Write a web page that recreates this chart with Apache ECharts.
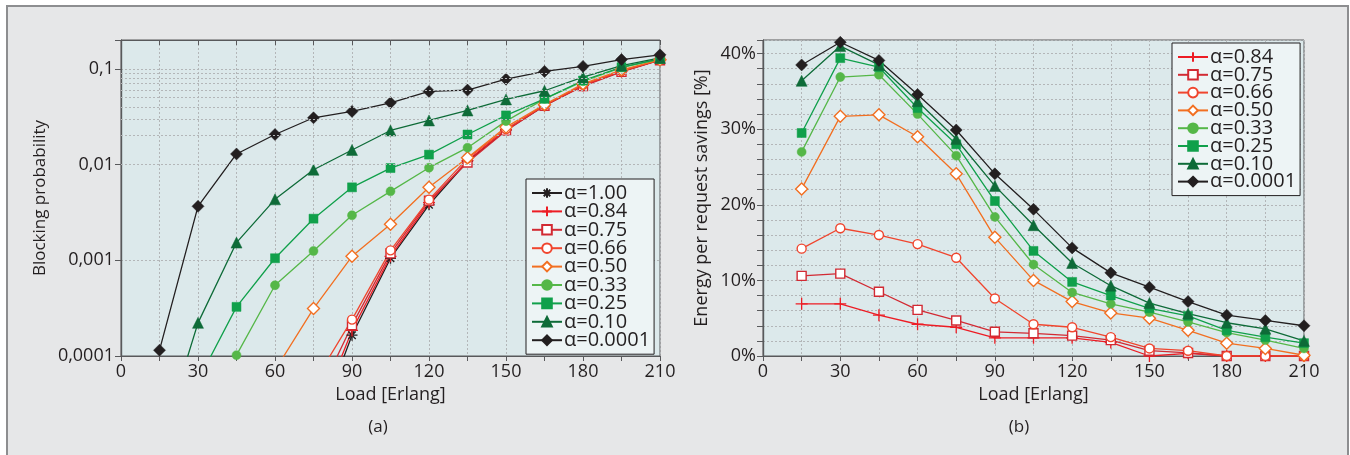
<!DOCTYPE html>
<html>
<head>
<meta charset="utf-8">
<script src="https://cdn.jsdelivr.net/npm/echarts@6/dist/echarts.min.js"></script>
<style>
html, body { margin: 0; padding: 0; background: #ffffff; }
#wrap { position: relative; width: 1350px; height: 455px; overflow: hidden; }
#frame { position: absolute; left: 6px; top: 5px; width: 1339px; height: 470px; border: 2px solid #8d8e90; background: #e6e7e8; }
#chart { position: absolute; left: 0; top: 0; width: 1350px; height: 455px; }
</style>
</head>
<body>
<div id="wrap">
  <div id="frame"></div>
  <div id="chart"></div>
</div>
<script>
// load values on the x axis (Erlang)
const loads = [15, 30, 45, 60, 75, 90, 105, 120, 135, 150, 165, 180, 195, 210];

// (a) blocking probability
const block100  = [null, null, null, null, 1.4e-5, 1.65e-4, 0.00105, 0.0038, 0.0108, 0.0228, 0.0412, 0.067, 0.094, 0.124];
const block084  = [null, null, null, null, 1.8e-5, 1.85e-4, 0.0011, 0.0040, 0.011, 0.0231, 0.0414, 0.067, 0.094, 0.124];
const block075  = [null, null, null, null, 3.0e-5, 2.1e-4, 0.00118, 0.0042, 0.0105, 0.0226, 0.0412, 0.066, 0.093, 0.123];
const block066  = [null, null, null, null, 5.2e-5, 2.4e-4, 0.00127, 0.0043, 0.0116, 0.0235, 0.0418, 0.068, 0.095, 0.125];
const block050  = [null, null, null, 7.1e-5, 3.13e-4, 0.0011, 0.00238, 0.0058, 0.0118, 0.0246, 0.0424, 0.0697, 0.0977, 0.124];
const block033  = [null, null, 1.02e-4, 5.48e-4, 0.00125, 0.00295, 0.00525, 0.00927, 0.015, 0.0284, 0.0486, 0.074, 0.103, 0.126];
const block025  = [null, 5.5e-5, 3.26e-4, 0.00105, 0.00272, 0.00578, 0.00919, 0.0127, 0.0206, 0.0326, 0.0486, 0.0755, 0.104, 0.127];
const block010  = [1.1e-5, 2.22e-4, 0.00153, 0.00433, 0.00883, 0.0142, 0.0227, 0.0289, 0.0367, 0.0479, 0.059, 0.0817, 0.108, 0.130];
const block0001 = [1.15e-4, 0.00366, 0.0129, 0.0206, 0.0308, 0.0359, 0.0442, 0.058, 0.060, 0.078, 0.094, 0.106, 0.125, 0.140];

// (b) energy per request savings [%]
const save084  = [6.9, 6.9, 5.4, 4.2, 3.8, 2.4, 2.4, 2.4, 1.8, 0, 0.35, 0, 0, 0];
const save075  = [10.6, 10.9, 8.5, 6.1, 4.7, 3.2, 3.0, 2.7, 2.1, 0.7, 0.4, 0, 0, 0];
const save066  = [14.2, 16.9, 16.0, 14.8, 13.0, 7.6, 4.2, 3.8, 2.5, 1.0, 0.7, 0, 0, 0];
const save050  = [22.1, 31.7, 31.9, 29.0, 24.1, 15.7, 10.0, 7.2, 5.7, 5.0, 3.4, 1.7, 1.0, 0.1];
const save033  = [27.0, 36.9, 37.2, 32.0, 26.5, 18.4, 12.1, 8.4, 6.9, 5.8, 4.5, 3.1, 2.1, 1.0];
const save025  = [29.5, 39.4, 38.2, 32.8, 28.0, 20.5, 13.9, 9.8, 8.0, 6.3, 5.3, 3.4, 2.5, 1.7];
const save010  = [36.4, 41.0, 38.5, 33.7, 28.7, 22.5, 17.3, 12.3, 9.3, 7.0, 5.6, 4.4, 3.6, 2.0];
const save0001 = [38.5, 41.5, 39.1, 34.6, 29.9, 24.1, 19.4, 14.3, 11.0, 9.1, 7.2, 5.4, 4.7, 4.0];

// tick labels
const blockLabels = { '-1': '0,1', '-2': '0,01', '-3': '0,001', '-4': '0,0001' };
const saveLabels = [0, 10, 20, 30, 40];

const FONT = '"Open Sans", "DejaVu Sans", sans-serif';
const TEXT = '#231f20';
const AXIS = '#58595b';
const GRIDLINE = '#b3b6b8';

const asterisk = 'path://M5 0L5 10M0 5L10 5M1.6 1.6L8.4 8.4M1.6 8.4L8.4 1.6';
const plus = 'path://M5 0L5 10M0 5L10 5';

// one entry per curve: colour, marker, hollow?
const styles = {
    '1.00':   { color: '#231f20', symbol: asterisk, size: 11, hollow: 'stroke' },
    '0.84':   { color: '#ed1c24', symbol: plus, size: 12, hollow: 'stroke' },
    '0.75':   { color: '#d22a33', symbol: 'rect', size: 9, hollow: true },
    '0.66':   { color: '#f0452e', symbol: 'circle', size: 9, hollow: true },
    '0.50':   { color: '#f26f21', symbol: 'diamond', size: 12, hollow: true },
    '0.33':   { color: '#55b748', symbol: 'circle', size: 9, hollow: false },
    '0.25':   { color: '#10a04b', symbol: 'rect', size: 9, hollow: false },
    '0.10':   { color: '#0e6b38', symbol: 'triangle', size: 11, hollow: false },
    '0.0001': { color: '#231f20', symbol: 'diamond', size: 12, hollow: false }
};

const zip = vals => loads.map((x, i) => vals[i] == null ? [x, null] : [x, vals[i]]);

function makeSeries(key, vals, xi, yi) {
    const s = styles[key];
    let itemStyle;
    if (s.hollow === 'stroke') itemStyle = { color: 'rgba(0,0,0,0)', borderColor: s.color, borderWidth: 1.3 };
    else if (s.hollow) itemStyle = { color: '#ffffff', borderColor: s.color, borderWidth: 1.4 };
    else itemStyle = { color: s.color, borderColor: s.color, borderWidth: 0.5 };
    return {
        name: 'α=' + key,
        type: 'line',
        xAxisIndex: xi,
        yAxisIndex: yi,
        data: zip(vals),
        symbol: s.symbol,
        symbolSize: s.size,
        showAllSymbol: true,
        clip: true,
        lineStyle: { color: s.color, width: 1.3 },
        itemStyle: itemStyle,
        emphasis: { disabled: true },
        animation: false
    };
}

// minor decade grid lines 2..9 for the log axis
const minorLog = [];
for (let e = -4; e <= -1; e++) {
    for (let k = 2; k <= 9; k++) {
        const v = k * Math.pow(10, e);
        if (v < 0.2) minorLog.push({ yAxis: v });
    }
}

const blockSeries = [
    makeSeries('1.00', block100, 0, 0),
    makeSeries('0.84', block084, 0, 0),
    makeSeries('0.75', block075, 0, 0),
    makeSeries('0.66', block066, 0, 0),
    makeSeries('0.50', block050, 0, 0),
    makeSeries('0.33', block033, 0, 0),
    makeSeries('0.25', block025, 0, 0),
    makeSeries('0.10', block010, 0, 0),
    makeSeries('0.0001', block0001, 0, 0)
];
blockSeries[0].markLine = {
    silent: true,
    symbol: 'none',
    label: { show: false },
    lineStyle: { color: GRIDLINE, type: [2, 2], width: 1 },
    animation: false,
    data: minorLog
};

const saveSeries = [
    makeSeries('0.84', save084, 2, 2),
    makeSeries('0.75', save075, 2, 2),
    makeSeries('0.66', save066, 2, 2),
    makeSeries('0.50', save050, 2, 2),
    makeSeries('0.33', save033, 2, 2),
    makeSeries('0.25', save025, 2, 2),
    makeSeries('0.10', save010, 2, 2),
    makeSeries('0.0001', save0001, 2, 2)
];

const dotted = { show: true, lineStyle: { color: GRIDLINE, type: [2, 2], width: 1 } };

function bottomX(gridIndex) {
    return {
        type: 'value', gridIndex: gridIndex, position: 'bottom',
        min: 0, max: 210, interval: 15,
        name: 'Load [Erlang]', nameLocation: 'middle', nameGap: 27,
        nameTextStyle: { fontFamily: FONT, fontSize: 18, color: TEXT },
        axisLine: { lineStyle: { color: AXIS, width: 1.2 } },
        axisTick: { length: 5, lineStyle: { color: AXIS } },
        axisLabel: {
            fontFamily: FONT, fontSize: 18, color: TEXT, margin: 7,
            formatter: v => (v % 30 === 0 ? String(v) : '')
        },
        splitLine: dotted
    };
}
function topX(gridIndex) {
    return {
        type: 'value', gridIndex: gridIndex, position: 'top',
        min: 0, max: 210, interval: 15,
        axisLine: { lineStyle: { color: AXIS, width: 1.2 } },
        axisTick: { inside: true, length: 5, lineStyle: { color: AXIS } },
        axisLabel: { show: false },
        splitLine: { show: false }
    };
}

const legendBase = {
    orient: 'vertical',
    backgroundColor: '#edf4f5', borderColor: TEXT, borderWidth: 1,
    padding: [4, 4, 4, 5], itemWidth: 30, itemHeight: 12,
    textStyle: { fontFamily: FONT, fontSize: 20, lineHeight: 15, color: TEXT, padding: [0, 0, 0, -3] },
    selectedMode: false
};

const option = {
    backgroundColor: 'transparent',
    textStyle: { fontFamily: FONT },
    grid: [
        { left: 121, top: 40, width: 539, height: 316, show: true, backgroundColor: '#dce9eb', borderColor: AXIS, borderWidth: 1 },
        { left: 763, top: 40, width: 541, height: 316, show: true, backgroundColor: '#dce9eb', borderColor: AXIS, borderWidth: 1 }
    ],
    xAxis: [bottomX(0), topX(0), bottomX(1), topX(1)],
    yAxis: [
        {
            type: 'log', gridIndex: 0, position: 'left', min: 0.0001, max: 0.2, logBase: 10,
            name: 'Blocking probability', nameLocation: 'middle', nameGap: 72, nameRotate: 90,
            nameTextStyle: { fontFamily: FONT, fontSize: 17, color: TEXT },
            axisLine: { show: true, lineStyle: { color: AXIS, width: 1.2 } },
            axisTick: { length: 6, lineStyle: { color: AXIS } },
            axisLabel: {
                fontFamily: FONT, fontSize: 18, color: TEXT, margin: 7,
                formatter: v => {
                    const e = Math.log10(v);
                    const r = Math.round(e);
                    return Math.abs(e - r) < 1e-6 && blockLabels[r] ? blockLabels[r] : '';
                }
            },
            splitLine: dotted
        },
        {
            type: 'log', gridIndex: 0, position: 'right', min: 0.0001, max: 0.2, logBase: 10,
            axisLine: { show: true, lineStyle: { color: AXIS, width: 1.2 } },
            axisTick: { inside: true, length: 6, lineStyle: { color: AXIS } },
            axisLabel: { show: false },
            splitLine: { show: false }
        },
        {
            type: 'value', gridIndex: 1, position: 'left', min: 0, max: 41.8, interval: 2,
            name: 'Energy per request savings [%]', nameLocation: 'middle', nameGap: 52, nameRotate: 90,
            nameTextStyle: { fontFamily: FONT, fontSize: 18, color: TEXT },
            axisLine: { show: true, lineStyle: { color: AXIS, width: 1.2 } },
            axisTick: { show: false },
            axisLabel: {
                fontFamily: FONT, fontSize: 18, color: TEXT, margin: 7,
                formatter: v => (saveLabels.indexOf(v) >= 0 ? v + '%' : '')
            },
            splitLine: dotted
        },
        {
            type: 'value', gridIndex: 1, position: 'right', min: 0, max: 41.8, interval: 2,
            axisLine: { show: true, lineStyle: { color: AXIS, width: 1.2 } },
            axisTick: { inside: true, length: 6, lineStyle: { color: AXIS } },
            axisLabel: { show: false },
            splitLine: { show: false }
        },
        {
            type: 'value', gridIndex: 1, position: 'left', min: 0, max: 41.8, interval: 10,
            axisLine: { show: false },
            axisTick: { length: 6, lineStyle: { color: AXIS } },
            axisLabel: { show: false },
            splitLine: { show: false }
        }
    ],
    legend: [
        Object.assign({}, legendBase, { data: blockSeries.map(s => s.name), left: 526, top: 179, itemGap: -1.6 }),
        Object.assign({}, legendBase, { data: saveSeries.map(s => s.name), left: 1172, top: 43, itemGap: -2.2 })
    ],
    graphic: [
        { type: 'text', x: 378, y: 427, style: { text: '(a)', fontFamily: FONT, fontSize: 17, fill: TEXT, textAlign: 'center', textVerticalAlign: 'middle' } },
        { type: 'text', x: 1019, y: 427, style: { text: '(b)', fontFamily: FONT, fontSize: 17, fill: TEXT, textAlign: 'center', textVerticalAlign: 'middle' } }
    ],
    series: blockSeries.concat(saveSeries)
};

const myChart = echarts.init(document.getElementById('chart'), null, { renderer: 'canvas' });
myChart.setOption(option);
</script>
</body>
</html>
